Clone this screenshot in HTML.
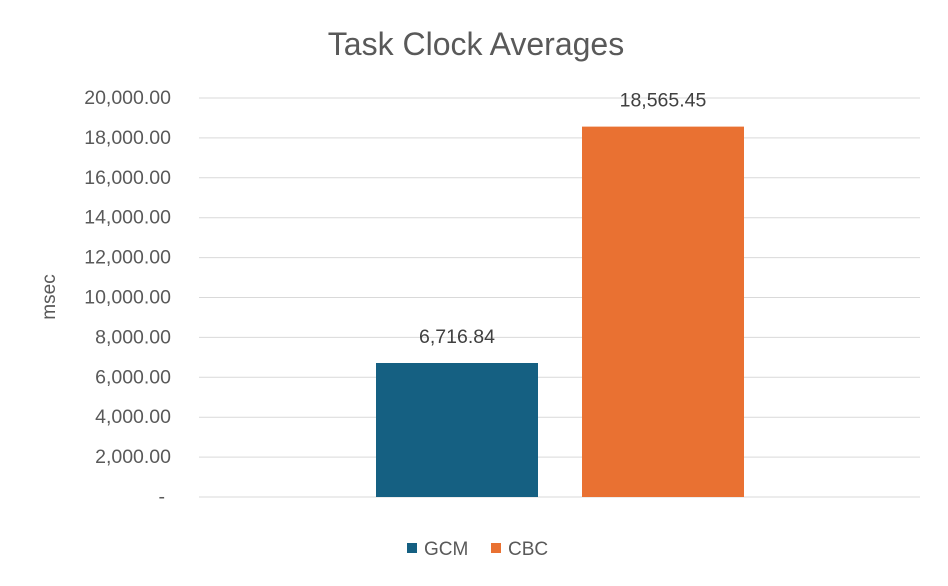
<!DOCTYPE html>
<html>
<head>
<meta charset="utf-8">
<style>
html,body{margin:0;padding:0;background:#fff;}
svg{display:block;font-family:"Liberation Sans",sans-serif;}
</style>
</head>
<body>
<svg id="chart" width="948" height="586" viewBox="0 0 948 586">
<rect x="0" y="0" width="948" height="586" fill="#fff"/>
<text x="476" y="55" text-anchor="middle" font-size="32" fill="#595959">Task Clock Averages</text>
<text transform="translate(55,297) rotate(-90)" text-anchor="middle" font-size="19" fill="#595959">msec</text>
<g id="grid"></g>
<g id="bars"></g>
<g id="labels"></g>
<g id="legend"></g>
</svg>
<script>
const categories = ["GCM", "CBC"];
const values = [6716.84, 18565.45];
const valueLabels = ["6,716.84", "18,565.45"];
const tickValues = [0, 2000, 4000, 6000, 8000, 10000, 12000, 14000, 16000, 18000, 20000];
const tickLabels = ["-", "2,000.00", "4,000.00", "6,000.00", "8,000.00", "10,000.00", "12,000.00", "14,000.00", "16,000.00", "18,000.00", "20,000.00"];
const colors = ["#156082", "#E97132"];

const NS = "http://www.w3.org/2000/svg";
const plotL = 199, plotR = 920, plotTop = 98, plotBot = 497;
const yMax = 20000;
function y(v){ return plotBot - (v / yMax) * (plotBot - plotTop); }
function mk(tag, attrs){ const e = document.createElementNS(NS, tag); for (const k in attrs) e.setAttribute(k, attrs[k]); return e; }

const grid = document.getElementById('grid');
tickValues.forEach((t, i) => {
  const ln = mk('line', {x1: plotL, x2: plotR, y1: y(t), y2: y(t), stroke: '#d9d9d9', 'stroke-width': 1});
  
  
  grid.appendChild(ln);
  const tx = mk('text', {x: t === 0 ? 165 : 171, y: y(t) + 6, 'text-anchor': 'end', 'font-size': 19.5, fill: '#595959'});
  tx.textContent = tickLabels[i];
  
  
  grid.appendChild(tx);
});

const bars = document.getElementById('bars');
const labels = document.getElementById('labels');
const barW = 162, barStarts = [376, 582];
values.forEach((v, i) => {
  const r = mk('rect', {x: barStarts[i], y: y(v), width: barW, height: plotBot - y(v), fill: colors[i]});
  
  
  bars.appendChild(r);
  const t = mk('text', {x: barStarts[i] + barW / 2, y: y(v) - 20, 'text-anchor': 'middle', 'font-size': 19.5, fill: '#404040'});
  t.textContent = valueLabels[i];
  
  
  labels.appendChild(t);
});

const legend = document.getElementById('legend');
const legX = [407, 491];
categories.forEach((c, i) => {
  const s = mk('rect', {x: legX[i], y: 543, width: 10, height: 10, fill: colors[i]});
  
  
  legend.appendChild(s);
  const t = mk('text', {x: legX[i] + 17, y: 555, 'font-size': 19, fill: '#595959'});
  t.textContent = c;
  
  
  legend.appendChild(t);
});
</script>
</body>
</html>
